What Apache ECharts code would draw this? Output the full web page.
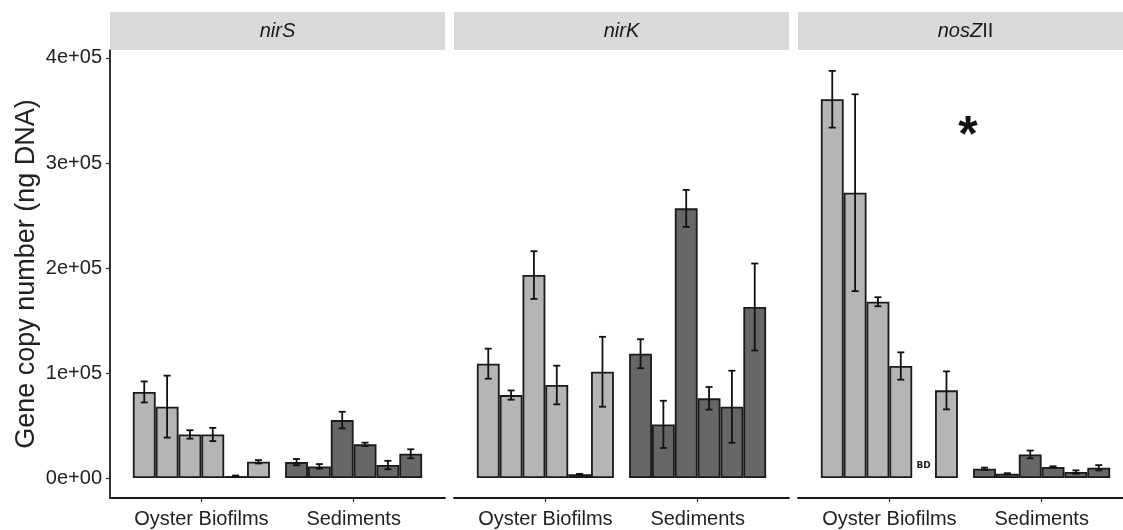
<!DOCTYPE html>
<html>
<head>
<meta charset="utf-8">
<script src="https://cdn.jsdelivr.net/npm/echarts@6/dist/echarts.min.js"></script>
<style>
  html, body { margin: 0; padding: 0; background: #ffffff; }
  #chart { width: 1123px; height: 530px; }
</style>
</head>
<body>
<div id="chart"></div>
<script>
// ---------- data ----------
const categories = ['Oyster Biofilms', 'Sediments'];
const siteNames = ['Site 1', 'Site 2', 'Site 3', 'Site 4', 'Site 5', 'Site 6'];
const geneNames = ['nirS', 'nirK', 'nosZII'];

const yTickValues = [0, 100000, 200000, 300000, 400000];
const yTickLabels = ['0e+00', '1e+05', '2e+05', '3e+05', '4e+05'];

// nirS
const nirS_oyster     = [82000, 68000, 41500, 41500, 1900, 15500];
const nirS_oysterErr  = [10000, 29500, 4000, 6300, 500, 1600];
const nirS_sed        = [15200, 11100, 55200, 32100, 12400, 23100];
const nirS_sedErr     = [3000, 2200, 7900, 1600, 4000, 4300];
// nirK
const nirK_oyster     = [108900, 79000, 193300, 88600, 3500, 101200];
const nirK_oysterErr  = [14300, 4400, 22700, 18400, 500, 33300];
const nirK_sed        = [118400, 51100, 256800, 75900, 67900, 162900];
const nirK_sedErr     = [13800, 22500, 17600, 10800, 34300, 41400];
// nosZII (null = below detection, "BD")
const nosZII_oyster    = [360700, 271700, 167900, 106700, null, 83500];
const nosZII_oysterErr = [27000, 93700, 4300, 13000, null, 18100];
const nosZII_sed       = [8900, 4100, 22500, 10500, 5700, 9800];
const nosZII_sedErr    = [1000, 500, 3700, 700, 1600, 2500];

const bdLabel = 'BD';
const sigMark = '*';

// ---------- build ----------
const panels = [
  { gene: 'nirS', oy: nirS_oyster, oyE: nirS_oysterErr, se: nirS_sed, seE: nirS_sedErr },
  { gene: 'nirK', oy: nirK_oyster, oyE: nirK_oysterErr, se: nirK_sed, seE: nirK_sedErr },
  { gene: 'nosZII', oy: nosZII_oyster, oyE: nosZII_oysterErr, se: nosZII_sed, seE: nosZII_sedErr }
];

const FONT = 'Liberation Sans, Arial, sans-serif';
const LIGHT = '#b5b5b5';
const DARK = '#676767';
const EDGE = '#1a1a1a';

const panelLeft = [110, 454, 798];
const panelWidth = 335;
const gridTop = 50;
const gridBottomY = 498;
const gridHeight = gridBottomY - gridTop;
const unit = panelWidth / 2.2;          // ggplot discrete expansion (0.6 each side)
const inset = unit * 0.1;

const Y_MIN = -19000;
const Y_MAX = 407600;

const grids = [], xAxes = [], yAxes = [], series = [], graphics = [];

panels.forEach((p, pi) => {
  const L = panelLeft[pi];
  grids.push({ left: L, top: gridTop, width: panelWidth, height: gridHeight, outerBoundsMode: 'none' });
  grids.push({ left: L + inset, top: gridTop, width: panelWidth - 2 * inset, height: gridHeight, outerBoundsMode: 'none' });
  const gA = pi * 2, gB = pi * 2 + 1;

  xAxes.push({
    gridIndex: gA, type: 'value', min: 0, max: 1, position: 'bottom',
    axisLine: { show: true, onZero: false, lineStyle: { color: EDGE, width: 1.8 } },
    axisTick: { show: false }, axisLabel: { show: false }, splitLine: { show: false }
  });
  xAxes.push({
    gridIndex: gB, type: 'category', data: categories, position: 'bottom',
    axisLine: { show: false, onZero: false },
    axisTick: { show: true, alignWithLabel: true, length: 4, lineStyle: { color: '#333', width: 1.2 } },
    axisLabel: { show: true, interval: 0, fontSize: 20, color: '#222', fontFamily: FONT, margin: 11 },
    splitLine: { show: false }
  });

  yAxes.push(pi === 0 ? {
    gridIndex: gA, type: 'value', min: Y_MIN, max: Y_MAX,
    name: 'Gene copy number (ng DNA)', nameLocation: 'middle', nameGap: 70,
    nameTextStyle: { fontSize: 27, color: '#222', fontFamily: FONT },
    axisLine: { show: true, onZero: false, lineStyle: { color: EDGE, width: 1.8 } },
    axisTick: { show: true, length: 4, customValues: yTickValues, lineStyle: { color: '#333', width: 1.2 } },
    axisLabel: {
      show: true, customValues: yTickValues, fontSize: 20, color: '#222', fontFamily: FONT, margin: 8,
      formatter: v => yTickLabels[yTickValues.indexOf(v)] ?? ''
    },
    splitLine: { show: false }
  } : {
    gridIndex: gA, type: 'value', min: Y_MIN, max: Y_MAX, show: false, splitLine: { show: false }
  });
  yAxes.push({ gridIndex: gB, type: 'value', min: Y_MIN, max: Y_MAX, show: false, splitLine: { show: false } });

  siteNames.forEach((sn, si) => {
    const oyVal = p.oy[si];
    const oyItem = oyVal === null ? {
      value: 0,
      itemStyle: { color: 'rgba(0,0,0,0)', borderWidth: 0 },
      label: { show: true, position: 'top', distance: 8, formatter: bdLabel, fontSize: 9, fontWeight: 'bold', color: '#222', fontFamily: 'DejaVu Sans, sans-serif' }
    } : { value: oyVal, itemStyle: { color: LIGHT } };
    series.push({
      type: 'bar', name: sn, xAxisIndex: gB, yAxisIndex: gB,
      barGap: '0%', barCategoryGap: '10%',
      itemStyle: { borderColor: EDGE, borderWidth: 1.8 },
      emphasis: { disabled: true },
      data: [oyItem, { value: p.se[si], itemStyle: { color: DARK } }],
      z: 2
    });
  });

  const errData = [];
  siteNames.forEach((sn, si) => {
    if (p.oy[si] !== null && p.oyE[si] !== null) errData.push([0, si, p.oy[si], p.oyE[si]]);
    errData.push([1, si, p.se[si], p.seE[si]]);
  });
  series.push({
    type: 'custom', xAxisIndex: gB, yAxisIndex: gB, z: 5,
    encode: { x: 0, y: 2 },
    data: errData,
    renderItem: (params, api) => {
      const cat = api.value(0), site = api.value(1), v = api.value(2), e = api.value(3);
      const c = api.coord([cat, v]);
      const band = api.size([1, 0])[0];
      const barW = band * 0.9 / siteNames.length;
      const x = c[0] + (site - (siteNames.length - 1) / 2) * barW;
      const yT = api.coord([cat, v + e])[1];
      const yB = api.coord([cat, v - e])[1];
      const hw = 3.5;
      const st = { stroke: '#111', lineWidth: 1.8, fill: null };
      return {
        type: 'group',
        children: [
          { type: 'line', shape: { x1: x, y1: yT, x2: x, y2: yB }, style: st },
          { type: 'line', shape: { x1: x - hw, y1: yT, x2: x + hw, y2: yT }, style: st },
          { type: 'line', shape: { x1: x - hw, y1: yB, x2: x + hw, y2: yB }, style: st }
        ]
      };
    }
  });

  graphics.push({
    type: 'rect', shape: { x: L, y: 12, width: panelWidth, height: 38 },
    style: { fill: '#d9d9d9' }, z: 1
  });
  const stripText = p.gene === 'nosZII' ? '{i|nosZ}{n|II}' : '{i|' + p.gene + '}';
  graphics.push({
    type: 'text', x: L + panelWidth / 2, y: 31, z: 2,
    style: {
      text: stripText, textAlign: 'center', textVerticalAlign: 'middle',
      rich: {
        i: { fontSize: 20, fontStyle: 'italic', fontFamily: FONT, fill: '#1a1a1a' },
        n: { fontSize: 20, fontFamily: FONT, fill: '#1a1a1a' }
      }
    }
  });
});

graphics.push({
  type: 'text', x: 968, y: 137, z: 10,
  style: { text: sigMark, font: 'bold 50px Liberation Sans, Arial, sans-serif', fill: '#111', textAlign: 'center', textVerticalAlign: 'middle' }
});

const chart = echarts.init(document.getElementById('chart'), null, { renderer: 'canvas' });
chart.setOption({
  backgroundColor: '#ffffff',
  animation: false,
  grid: grids,
  xAxis: xAxes,
  yAxis: yAxes,
  series: series,
  graphic: graphics,
  tooltip: { show: false }
});
</script>
</body>
</html>
